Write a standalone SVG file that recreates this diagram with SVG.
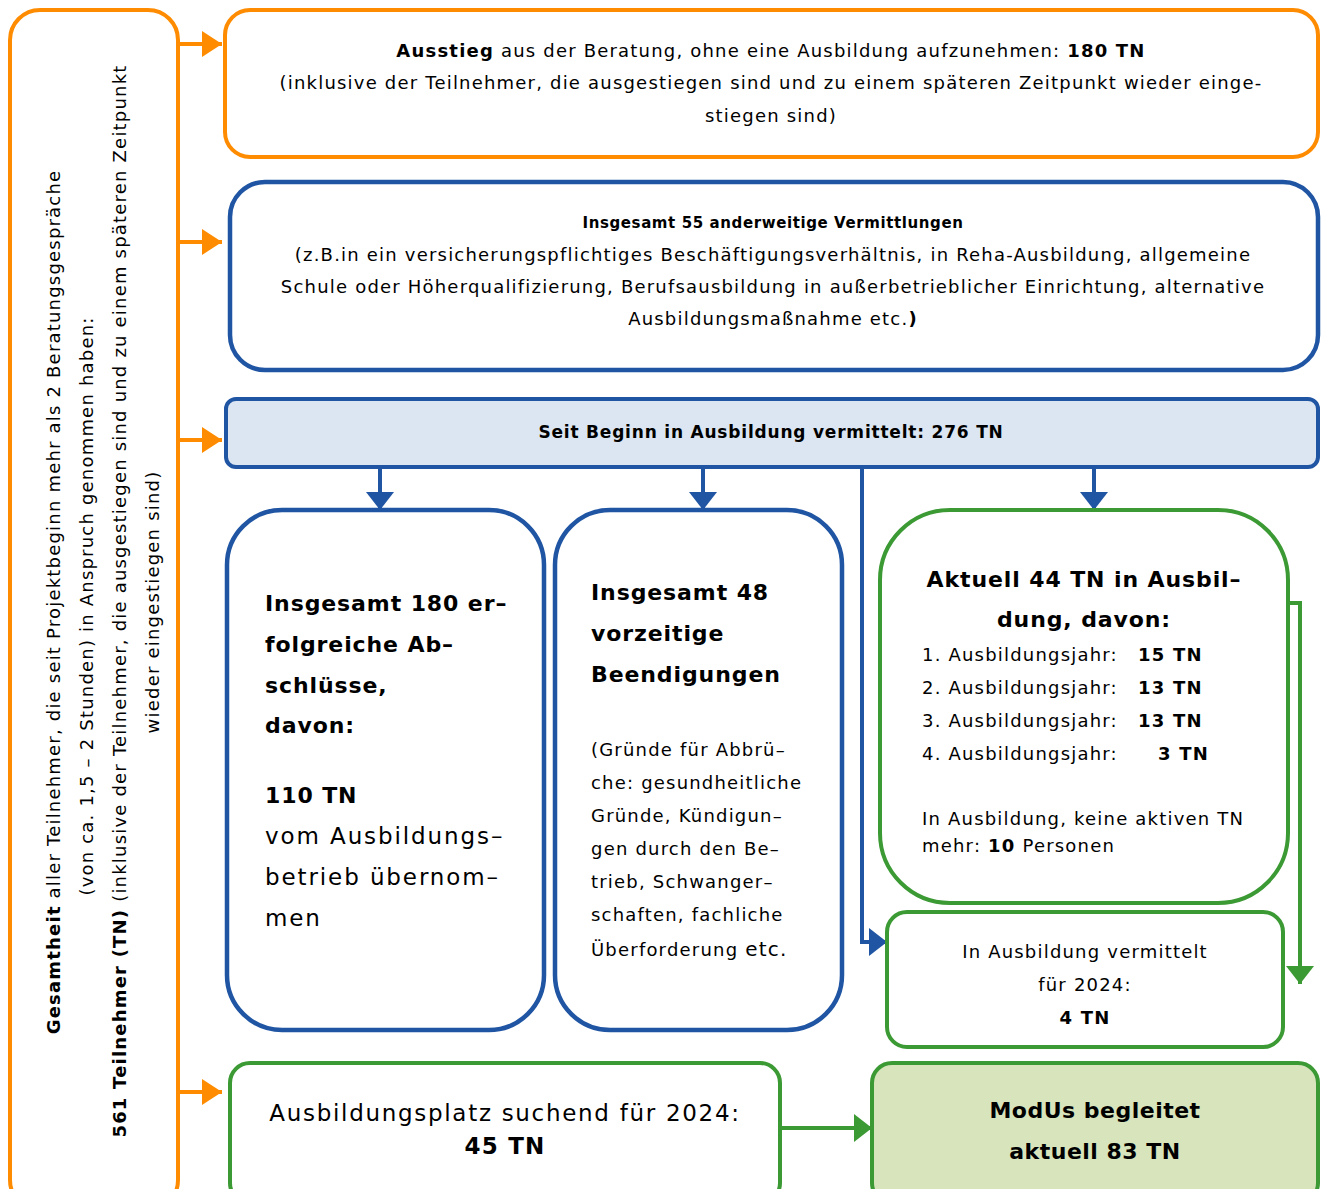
<svg xmlns="http://www.w3.org/2000/svg" width="1326" height="1189" viewBox="0 0 1326 1189">
<style>
svg{letter-spacing:1.2px;}
text{font-family:"DejaVu Sans","Verdana",sans-serif;fill:#000;}
.o{fill:#fff;stroke:#FF8C00;stroke-width:4;}
.b{fill:#fff;stroke:#1F55A3;stroke-width:4.5;}
.g{fill:#fff;stroke:#3C9A34;stroke-width:4;}
.c{text-anchor:middle;}
.bd{font-weight:bold;}
.bt{font-weight:bold;letter-spacing:0.9px;}
.lo{stroke:#FF8C00;stroke-width:4;fill:none;}
.lb{stroke:#1F55A3;stroke-width:4;fill:none;}
.lg{stroke:#3C9A34;stroke-width:4;fill:none;}
</style>
<defs>
<marker id="ao" markerUnits="userSpaceOnUse" markerWidth="20" markerHeight="26" refX="20" refY="13" orient="auto"><path d="M0,0 L20,13 L0,26 Z" fill="#FF8C00"/></marker>
<marker id="ab" markerUnits="userSpaceOnUse" markerWidth="18" markerHeight="28" refX="18" refY="14" orient="auto"><path d="M0,0 L18,14 L0,28 Z" fill="#1F55A3"/></marker>
<marker id="ag" markerUnits="userSpaceOnUse" markerWidth="18" markerHeight="28" refX="18" refY="14" orient="auto"><path d="M0,0 L18,14 L0,28 Z" fill="#3C9A34"/></marker>
</defs>

<g id="connectors">
<line class="lo" x1="178" y1="44" x2="222" y2="44" marker-end="url(#ao)"/>
<line class="lo" x1="178" y1="242" x2="222" y2="242" marker-end="url(#ao)"/>
<line class="lo" x1="178" y1="440" x2="222" y2="440" marker-end="url(#ao)"/>
<line class="lo" x1="178" y1="1092" x2="222" y2="1092" marker-end="url(#ao)"/>
<line class="lb" x1="380" y1="467" x2="380" y2="510" marker-end="url(#ab)"/>
<line class="lb" x1="703" y1="467" x2="703" y2="510" marker-end="url(#ab)"/>
<line class="lb" x1="1094" y1="467" x2="1094" y2="510" marker-end="url(#ab)"/>
<polyline class="lb" points="862,467 862,942 887,942" marker-end="url(#ab)"/>
<polyline class="lg" points="1288,603 1300,603 1300,984" marker-end="url(#ag)"/>
<line class="lg" x1="780" y1="1128" x2="872" y2="1128" marker-end="url(#ag)"/>
</g>

<g id="n-total">
<rect class="o" x="10" y="10" width="168" height="1200" rx="30"/>
<g transform="rotate(-90)" font-size="18">
<text class="c" x="-602" y="60"><tspan class="bd">Gesamtheit</tspan> aller Teilnehmer, die seit Projektbeginn mehr als 2 Beratungsgespräche</text>
<text class="c" x="-606" y="93">(von ca. 1,5 – 2 Stunden) in Anspruch genommen haben:</text>
<text class="c" x="-601" y="126"><tspan class="bd">561 Teilnehmer (TN)</tspan> (inklusive der Teilnehmer, die ausgestiegen sind und zu einem späteren Zeitpunkt</text>
<text class="c" x="-602" y="159">wieder eingestiegen sind)</text>
</g>
</g>

<g id="n-ausstieg">
<rect class="o" x="225" y="10" width="1093" height="147" rx="25"/>
<g font-size="18">
<text class="c" x="771" y="57"><tspan class="bd">Ausstieg</tspan>  aus der Beratung, ohne eine Ausbildung aufzunehmen:  <tspan class="bd">180 TN</tspan></text>
<text class="c" x="771" y="89">(inklusive der Teilnehmer, die ausgestiegen sind und zu einem späteren Zeitpunkt wieder einge-</text>
<text class="c" x="771" y="122">stiegen sind)</text>
</g>
</g>

<g id="n-anderweitig">
<rect class="b" x="230" y="182" width="1088" height="188" rx="35"/>
<text class="c bd" x="773" y="228" font-size="15" style="letter-spacing:0.6px">Insgesamt 55 anderweitige Vermittlungen</text>
<g font-size="18">
<text class="c" x="773" y="261">(z.B.in ein versicherungspflichtiges Beschäftigungsverhältnis, in Reha-Ausbildung, allgemeine</text>
<text class="c" x="773" y="293">Schule oder Höherqualifizierung, Berufsausbildung in außerbetrieblicher Einrichtung, alternative</text>
<text class="c" x="773" y="325">Ausbildungsmaßnahme etc.<tspan class="bd">)</tspan></text>
</g>
</g>

<g id="n-vermittelt">
<rect x="226" y="399" width="1092" height="68" rx="10" fill="#DCE6F2" stroke="#1F55A3" stroke-width="4"/>
<text class="c bd" x="771" y="438" font-size="17" style="letter-spacing:0.8px">Seit Beginn in Ausbildung vermittelt: 276 TN</text>
</g>

<g id="n-abschluesse">
<rect class="b" x="227" y="510" width="317" height="520" rx="55"/>
<g font-size="22">
<text class="bt" x="265" y="611">Insgesamt 180 er–</text>
<text class="bt" x="265" y="652">folgreiche Ab–</text>
<text class="bt" x="265" y="693">schlüsse,</text>
<text class="bt" x="265" y="733">davon:</text>
<text class="bt" x="265" y="803">110 TN</text>
</g>
<g font-size="23" style="letter-spacing:1.9px">
<text x="265" y="844">vom Ausbildungs–</text>
<text x="265" y="885">betrieb übernom–</text>
<text x="265" y="926">men</text>
</g>
</g>

<g id="n-beendigungen">
<rect class="b" x="555" y="510" width="287" height="520" rx="55"/>
<g font-size="22">
<text class="bt" x="591" y="600">Insgesamt 48</text>
<text class="bt" x="591" y="641">vorzeitige</text>
<text class="bt" x="591" y="682">Beendigungen</text>
</g>
<g font-size="18">
<text x="591" y="756">(Gründe für Abbrü–</text>
<text x="591" y="789">che: gesundheitliche</text>
<text x="591" y="822">Gründe, Kündigun–</text>
<text x="591" y="855">gen durch den Be–</text>
<text x="591" y="888">trieb, Schwanger–</text>
<text x="591" y="921">schaften, fachliche</text>
<text x="591" y="956">Überforderung <tspan font-size="20">etc.</tspan></text>
</g>
</g>

<g id="n-aktuell">
<rect class="g" x="880" y="510" width="408" height="393" rx="70"/>
<text class="c bt" x="1084" y="587" font-size="22">Aktuell 44 TN in Ausbil–</text>
<text class="c bt" x="1084" y="627" font-size="22">dung, davon:</text>
<g font-size="18">
<text x="922" y="661">1. Ausbildungsjahr:</text><text class="bd" x="1138" y="661">15 TN</text>
<text x="922" y="694">2. Ausbildungsjahr:</text><text class="bd" x="1138" y="694">13 TN</text>
<text x="922" y="727">3. Ausbildungsjahr:</text><text class="bd" x="1138" y="727">13 TN</text>
<text x="922" y="760">4. Ausbildungsjahr:</text><text class="bd" x="1158" y="760">3 TN</text>
<text x="922" y="825">In Ausbildung, keine aktiven TN</text>
<text x="922" y="852">mehr: <tspan class="bd">10</tspan> Personen</text>
</g>
</g>

<g id="n-vermittelt2024">
<rect class="g" x="887" y="912" width="396" height="135" rx="20"/>
<g font-size="18">
<text class="c" x="1085" y="958">In Ausbildung vermittelt</text>
<text class="c" x="1085" y="991">für 2024:</text>
<text class="c bd" x="1085" y="1024">4 TN</text>
</g>
</g>

<g id="n-suchend">
<rect class="g" x="230" y="1063" width="550" height="140" rx="20"/>
<text class="c" x="505" y="1121" font-size="23" style="letter-spacing:1.7px">Ausbildungsplatz suchend für 2024:</text>
<text class="c bd" x="505" y="1154" font-size="23" style="letter-spacing:1.2px">45 TN</text>
</g>

<g id="n-modus">
<rect x="872" y="1063" width="446" height="140" rx="20" fill="#D7E4BC" stroke="#3C9A34" stroke-width="4"/>
<g font-size="22" style="letter-spacing:0.5px">
<text class="c bd" x="1095" y="1118">ModUs begleitet</text>
<text class="c bd" x="1095" y="1159">aktuell 83 TN</text>
</g>
</g>
</svg>
